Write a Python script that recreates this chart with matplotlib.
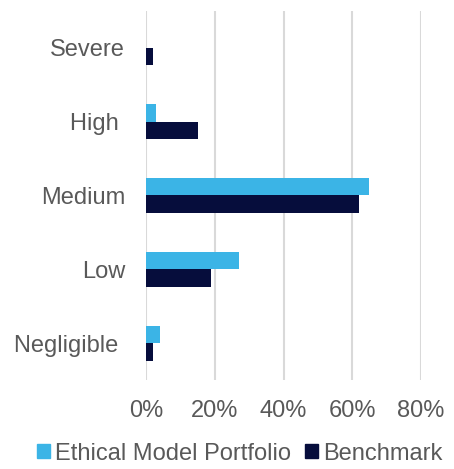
import numpy as np
import matplotlib
matplotlib.use("Agg")
import matplotlib.pyplot as plt
from matplotlib.patches import Patch
from matplotlib.ticker import FuncFormatter

categories = ["Severe", "High ", "Medium", "Low", "Negligible "]
ethical_model = [0, 3, 65, 27, 4]
benchmark = [2, 15, 62, 19, 2]
x_ticks = [0, 20, 40, 60, 80]

light_blue = "#3BB4E6"
navy = "#060D3C"
text_grey = "#595959"

plt.rcParams["font.family"] = ["Liberation Sans", "DejaVu Sans"]

fig = plt.figure(figsize=(4.54, 4.69), dpi=100)
ax = fig.add_axes([0.3216, 0.1898, 0.6057, 0.7868])

y = np.arange(len(categories))
h = 0.238
ax.barh(y - h / 2, ethical_model, height=h, color=light_blue)
ax.barh(y + h / 2, benchmark, height=h, color=navy)

ax.set_ylim(len(categories) - 0.5, -0.5)
ax.set_xlim(0, 80)
ax.set_xticks(x_ticks)
ax.xaxis.set_major_formatter(FuncFormatter(lambda v, _: f"{v:.0f}%"))
ax.set_yticks(y)
ax.set_yticklabels(categories)

ax.grid(axis="x", color="#D9D9D9", linewidth=1.5)
ax.set_axisbelow(True)
for side in ax.spines.values():
    side.set_visible(False)
ax.tick_params(axis="both", length=0, labelsize=17, labelcolor=text_grey)
ax.tick_params(axis="x", pad=14.5)
ax.tick_params(axis="y", pad=15)

handles = [
    Patch(color=light_blue, label="Ethical Model Portfolio"),
    Patch(color=navy, label="Benchmark"),
]
fig.legend(
    handles=handles,
    loc="lower center",
    bbox_to_anchor=(0.528, -0.036),
    ncol=2,
    frameon=False,
    fontsize=17,
    labelcolor=text_grey,
    handlelength=0.55,
    handleheight=0.55,
    handletextpad=0.2,
    columnspacing=0.6,
)

fig.savefig("out.png", dpi=100)
